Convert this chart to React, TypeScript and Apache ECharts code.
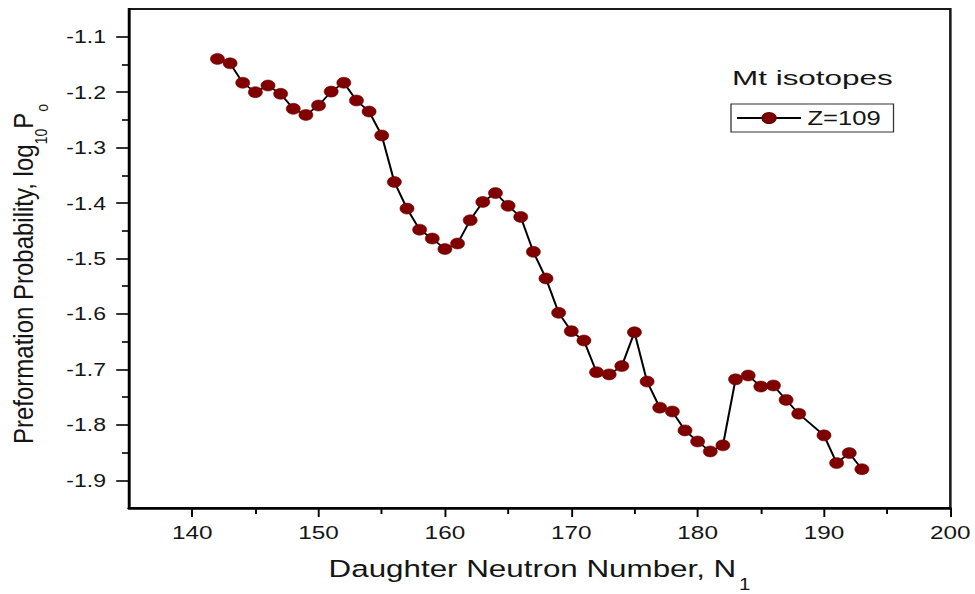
import React, { useEffect, useRef } from "react";
import * as echarts from "echarts";

// ---- data ----
const neutronNumbers = [
  142, 143, 144, 145, 146, 147, 148, 149, 150, 151, 152, 153, 154, 155, 156, 157,
  158, 159, 160, 161, 162, 163, 164, 165, 166, 167, 168, 169, 170, 171, 172, 173,
  174, 175, 176, 177, 178, 179, 180, 181, 182, 183, 184, 185, 186, 187, 188, 190,
  191, 192, 193,
];
const preformationLog = [
  -1.140, -1.148, -1.183, -1.200, -1.188, -1.203, -1.230, -1.241, -1.224, -1.199,
  -1.183, -1.215, -1.235, -1.278, -1.362, -1.410, -1.448, -1.464, -1.483, -1.473,
  -1.431, -1.398, -1.382, -1.405, -1.425, -1.488, -1.536, -1.598, -1.631, -1.648,
  -1.705, -1.709, -1.694, -1.633, -1.722, -1.769, -1.776, -1.810, -1.830, -1.848,
  -1.837, -1.718, -1.711, -1.731, -1.729, -1.755, -1.780, -1.819, -1.869, -1.851,
  -1.880,
];
const xMajorTicks = [140, 150, 160, 170, 180, 190, 200];
const xMinorTicks = [145, 155, 165, 175, 185, 195];
const yMajorTicks = [-1.9, -1.8, -1.7, -1.6, -1.5, -1.4, -1.3, -1.2, -1.1];
const yMinorTicks = [-1.85, -1.75, -1.65, -1.55, -1.45, -1.35, -1.25, -1.15];
const seriesName = "Z=109";
const legendTitle = "Mt isotopes";
const xTitleMain = "Daughter Neutron Number, N";
const xTitleSub = "1";
const yTitleMain = "Preformation Probability, log";
const yTitleSub1 = "10";
const yTitleMid = "P";
const yTitleSub2 = "o";

// ---- layout ----
const S = 1.28; // horizontal stretch of the reference picture
const H = 594;
const W = 975 / S;
const FONT = '"Liberation Sans", Arial, Helvetica, sans-serif';
const TEXT = "#151515";

function measure(text: string, size: number): number {
  const ctx = document.createElement("canvas").getContext("2d");
  if (!ctx) return text.length * size * 0.55;
  ctx.font = `${size}px ${FONT}`;
  return ctx.measureText(text).width;
}

function txt(text: string, x: number, y: number, size: number) {
  return {
    type: "text",
    x,
    y,
    style: { text, fontSize: size, fontFamily: FONT, fill: TEXT, align: "left", verticalAlign: "middle" },
  };
}

export default function App() {
  const ref = useRef<HTMLDivElement>(null);

  useEffect(() => {
    if (!ref.current) return;
    const chart = echarts.init(ref.current, null, { renderer: "svg" });

    // x title: main + subscript
    const xMainSize = 24.5;
    const xSubSize = 16;
    const wxMain = measure(xTitleMain, xMainSize);
    const wxSub = measure(xTitleSub, xSubSize);
    const xTotal = wxMain + 2 + wxSub;
    const xStart = 539.5 / S - xTotal / 2;

    // y title (rotated): main + subscripts
    const yMainSize = 24;
    const ySubSize = 14;
    const wyMain = measure(yTitleMain, yMainSize);
    const wySub1 = measure(yTitleSub1, ySubSize);
    const wyMid = measure(yTitleMid, yMainSize);
    const wySub2 = measure(yTitleSub2, ySubSize);
    const yTotal = wyMain + wySub1 + wyMid + 1 + wySub2;
    const y0 = -yTotal / 2;

    const option: any = {
      animation: false,
      grid: {
        left: 129 / S,
        right: 25 / S,
        top: 9,
        bottom: 86,
        show: true,
        borderColor: "#1a1a1a",
        borderWidth: 2,
        outerBoundsMode: "none",
      },
      xAxis: [
        {
          type: "value",
          position: "bottom",
          min: 135,
          max: 200,
          axisLine: { show: true, onZero: false, lineStyle: { color: "#000", width: 2.5 } },
          axisTick: { show: true, customValues: xMajorTicks, length: 9, lineStyle: { color: "#000", width: 1.5 } },
          axisLabel: {
            customValues: xMajorTicks,
            margin: 15,
            fontSize: 19,
            color: TEXT,
            fontFamily: FONT,
            formatter: (v: number) => String(v),
          },
          splitLine: { show: false },
        },
        {
          type: "value",
          position: "bottom",
          min: 135,
          max: 200,
          axisLine: { show: false, onZero: false },
          axisTick: { show: true, customValues: xMinorTicks, length: 6, lineStyle: { color: "#000", width: 1.5 } },
          axisLabel: { show: false },
          splitLine: { show: false },
        },
      ],
      yAxis: [
        {
          type: "value",
          position: "left",
          min: -1.95,
          max: -1.05,
          axisLine: { show: true, onZero: false, lineStyle: { color: "#000", width: 2 } },
          axisTick: { show: true, customValues: yMajorTicks, length: 10, lineStyle: { color: "#000", width: 1.6 } },
          axisLabel: {
            customValues: yMajorTicks,
            margin: 18,
            fontSize: 18,
            color: TEXT,
            fontFamily: FONT,
            formatter: (v: number) => v.toFixed(1),
          },
          splitLine: { show: false },
        },
        {
          type: "value",
          position: "left",
          min: -1.95,
          max: -1.05,
          axisLine: { show: false, onZero: false },
          axisTick: { show: true, customValues: yMinorTicks, length: 5.5, lineStyle: { color: "#000", width: 1.6 } },
          axisLabel: { show: false },
          splitLine: { show: false },
        },
      ],
      legend: {
        data: [{ name: seriesName }],
        left: 731 / S,
        top: 104,
        orient: "horizontal",
        padding: [4, 10, 4, 3.7],
        borderColor: "#333",
        borderWidth: 1,
        itemWidth: 50,
        itemHeight: 12.5,
        selectedMode: false,
        textStyle: { fontSize: 20, color: TEXT, fontFamily: FONT },
      },
      graphic: [
        {
          type: "text",
          x: 732 / S,
          y: 77.5,
          scaleX: 1.17,
          style: {
            text: legendTitle,
            fontSize: 21,
            fontFamily: FONT,
            fill: TEXT,
            align: "left",
            verticalAlign: "middle",
          },
        },
        // x-axis title
        txt(xTitleMain, xStart, 569, xMainSize),
        txt(xTitleSub, xStart + wxMain + 2, 584, xSubSize),
        // y-axis title, rotated
        {
          type: "group",
          x: 23 / S,
          y: 274,
          rotation: Math.PI / 2,
          scaleY: 0.91,
          children: [
            txt(yTitleMain, y0, 0, yMainSize),
            txt(yTitleSub1, y0 + wyMain, 15.5, ySubSize),
            txt(yTitleMid, y0 + wyMain + wySub1, 0, yMainSize),
            txt(yTitleSub2, y0 + wyMain + wySub1 + wyMid + 1, 16.5, ySubSize),
          ],
        },
      ],
      series: [
        {
          type: "line",
          name: seriesName,
          xAxisIndex: 0,
          yAxisIndex: 0,
          data: neutronNumbers.map((n, i) => [n, preformationLog[i]]),
          symbol: "circle",
          symbolSize: 11,
          itemStyle: { color: "#800000", borderColor: "#6e0000", borderWidth: 0.5 },
          lineStyle: { color: "#000", width: 1.6 },
          emphasis: { disabled: true },
          clip: false,
        },
      ],
    };
    chart.setOption(option);
    return () => chart.dispose();
  }, []);

  return (
    <div
      ref={ref}
      style={{
        position: "fixed",
        left: 0,
        top: 0,
        width: W,
        height: H,
        transform: `scaleX(${S})`,
        transformOrigin: "0 0",
        background: "#fff",
      }}
    />
  );
}
